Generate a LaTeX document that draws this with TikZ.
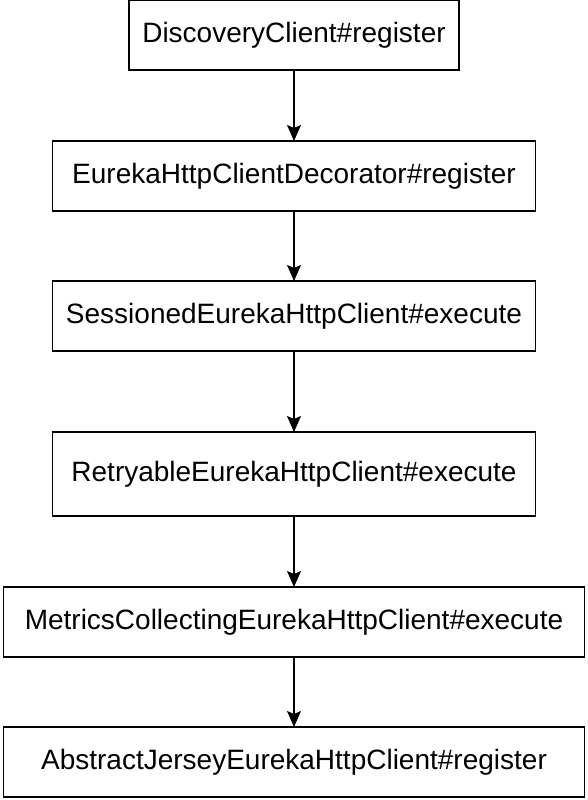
\documentclass[tikz,border=0pt]{standalone}
\usepackage{fontspec}
\setmainfont{Liberation Sans}
\usetikzlibrary{arrows.meta,positioning}

\begin{document}
\begin{tikzpicture}[
    x=1pt, y=1pt,
    node distance=70pt,
    box/.style={rectangle, draw, line width=1.4pt, outer sep=0pt, minimum height=70pt, inner sep=0pt, font=\fontsize{28}{32}\selectfont},
    arrow/.style={-{Stealth[length=16pt, width=14pt, inset=3pt]}, line width=1.4pt}
]
    \useasboundingbox (0,0) rectangle (588,-800);

    % Call chain
    \node[box, minimum width=330pt] (discovery) at (294,-35) {DiscoveryClient\#register};
    \node[box, minimum width=483pt, below=71pt of discovery] (decorator) {EurekaHttpClientDecorator\#register};
    \node[box, minimum width=483pt, below=of decorator] (sessioned) {SessionedEurekaHttpClient\#execute};
    \node[box, minimum width=483pt, minimum height=84pt, below=81pt of sessioned] (retryable) {RetryableEurekaHttpClient\#execute};
    \node[box, minimum width=581pt, below=71pt of retryable] (metrics) {MetricsCollectingEurekaHttpClient\#execute};
    \node[box, minimum width=581pt, below=of metrics] (jersey) {AbstractJerseyEurekaHttpClient\#register};

    % Arrows
    \draw[arrow] (discovery) -- (decorator);
    \draw[arrow] (decorator) -- (sessioned);
    \draw[arrow] (sessioned) -- (retryable);
    \draw[arrow] (retryable) -- (metrics);
    \draw[arrow] (metrics) -- (jersey);
\end{tikzpicture}
\end{document}
